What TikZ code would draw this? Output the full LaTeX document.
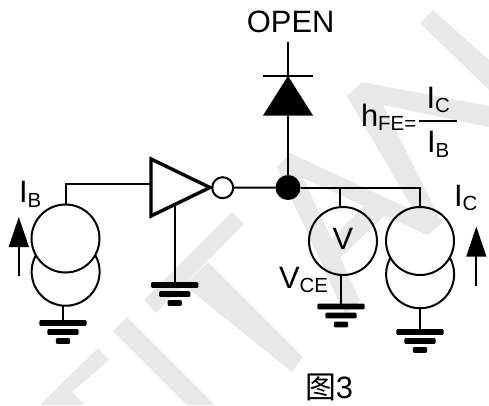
\documentclass[tikz,border=0pt]{standalone}
\usepackage{fontspec}
\setmainfont{Liberation Sans}
\newfontfamily\cjkfont{Noto Sans CJK SC}
\newcommand{\bigsz}{\fontsize{31}{31}\selectfont}
\newcommand{\subsz}[1]{\raisebox{-4.5bp}{\fontsize{20.5}{20.5}\selectfont #1}}
\tikzset{
  mark band/.style={fill=black!9,draw=none},
  wire/.style={line width=2bp,draw=black},
  src/.style={circle,minimum size=68bp,inner sep=0pt,outer sep=0pt},
  bubble/.style={circle,draw=black,line width=2bp,minimum size=21bp,inner sep=0pt,outer sep=0pt},
  junction/.style={circle,fill=black,minimum size=25bp,inner sep=0pt,outer sep=0pt},
  lbl/.style={anchor=base west,inner sep=0pt,outer sep=0pt,text=black,font=\bigsz},
  earthpic/.pic={
    \fill[rounded corners=1.2bp] (-23.7,-2.8) rectangle (23.7,2.8);
    \fill[rounded corners=1.2bp] (-15.7,6.2) rectangle (15.7,11.8);
    \fill[rounded corners=1.2bp] (-7.2,15.2) rectangle (7.2,20.8);
  },
  uparrow/.pic={
    \fill (0,0) -- (10.2,30) -- (-10.2,30) -- cycle;
    \draw[line width=2bp] (0,29) -- (0,59);
  }
}
\begin{document}
\begin{tikzpicture}[x=1bp,y=-1bp]
\useasboundingbox (0,0) rectangle (489,405);
% watermark
\fill[mark band] (98,348) -- (109,360) -- (72,392) -- (85,405) -- (40,405) -- cycle;
\fill[mark band] (127,317) -- (215,405) -- (187,405) -- (113,331) -- cycle;
\fill[mark band] (232,212) -- (244,224) -- (156,313) -- (144,300) -- cycle;
\fill[mark band] (208,262) -- (303,357) -- (292,372) -- (184,285) -- cycle;
\fill[mark band] (290,153) -- (440,223) -- (427,235) -- (303,178) -- (360,300) -- (345,315) -- (277,167) -- cycle;
\fill[mark band] (330,240) -- (367,203) -- (385,215) -- (340,258) -- cycle;
\fill[mark band] (362,82) -- (489,106) -- (489,127) -- (383,105) -- (442,223) -- (428,235) -- (347,96) -- cycle;
\fill[mark band] (433,10) -- (489,60) -- (489,90) -- (420,23) -- cycle;

% left current source
\node[src,draw=black,line width=2bp] (s1t) at (65.5,238.5) {};
\node[src] (s1b) at (65.5,272) {};
\draw[wire] (s1b.150.5) arc[start angle=150.5,end angle=389.5,radius=34bp];
% inverter
\coordinate (invA) at (151,159);
\coordinate (invB) at (151,216);
\coordinate (invT) at (210,187.5);
\draw[line width=3.4bp,line join=miter] (invA) -- (invT) -- (invB) -- cycle;
\node[bubble] (bub) at (222.7,187.7) {};
\node[junction] (dot) at (288,187.5) {};
% voltmeter and right source
\node[src,draw=black,line width=2bp] (vm) at (343,241) {};
\node[src,draw=black,line width=2bp] (s2t) at (420,241) {};
\node[src] (s2b) at (420,274.5) {};
\draw[wire] (s2b.150.5) arc[start angle=150.5,end angle=389.5,radius=34bp];
% diode
\coordinate (dtop) at (288,42);
\coordinate (dapex) at (288,76);
\coordinate (dL) at (263,115.5);
\coordinate (dR) at (313,115.5);
\coordinate (dbL) at (263,76);
\coordinate (dbR) at (313,76);
\coordinate (dbase) at (288,115.5);
\fill (dapex) -- (dR) -- (dL) -- cycle;
\draw[wire] (dbL) -- (dbR);
\draw[wire] (dtop) -- (dapex);
\draw[wire] (dbase) -- (dot);
% wiring
\coordinate (tapB) at (66.3,204.5);
\coordinate (inIn) at (151,184);
\draw[wire] (tapB) |- (inIn);
\draw[wire] (bub) -- (dot);
\coordinate (vtap) at (340,207);
\coordinate (s2tap) at (419.5,207);
\draw[wire] (dot) -| (s2tap);
\coordinate (vbus) at (340,187.5);
\draw[wire] (vbus) -- (vtap);
% grounds
\coordinate (g1) at (63,323);
\coordinate (g2) at (174.7,285);
\coordinate (g3) at (341,306.5);
\coordinate (g4) at (420,332);
\coordinate (s1g) at (63,305.5);
\coordinate (invg) at (174.7,205);
\coordinate (vmg) at (341,275);
\coordinate (s2g) at (420,308.5);
\draw[wire] (s1g) -- (g1);
\draw[wire] (invg) -- (g2);
\draw[wire] (vmg) -- (g3);
\draw[wire] (s2g) -- (g4);
\pic at (g1) {earthpic};
\pic at (g2) {earthpic};
\pic at (g3) {earthpic};
\pic at (g4) {earthpic};
% current arrows
\pic at (18.8,217) {uparrow};
\pic at (476.3,226.7) {uparrow};
% texts
\node[anchor=base,inner sep=0pt,font=\bigsz] (open) at (290.7,32.3) {OPEN};
\node[lbl] (ib) at (19,202.7) {I\subsz{B}};
\node[lbl] (ic) at (454,206) {I\subsz{C}};
\node[anchor=base,inner sep=0pt,font=\bigsz] (vtxt) at (343,249.3) {V};
\node[lbl] (vce) at (279,288.3) {V\subsz{CE}};
\node[lbl] (hfe) at (361,126) {h\subsz{FE=}};
\node[lbl] (num) at (426.5,108.3) {I\subsz{C}};
\node[lbl] (den) at (427,152.7) {I\subsz{B}};
\coordinate (fracL) at (419,120.7);
\coordinate (fracR) at (456.7,120.7);
\draw[wire] (fracL) -- (fracR);
\node[lbl] (cap) at (305,398) {{\cjkfont 图}3};
\end{tikzpicture}
\end{document}
